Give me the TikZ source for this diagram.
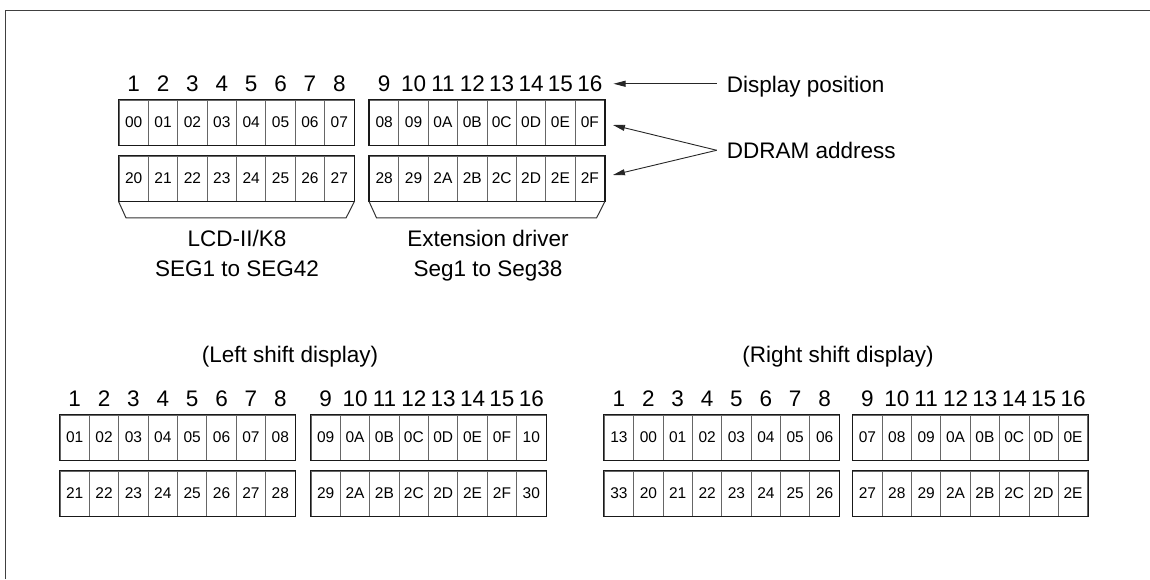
\documentclass[tikz,border=0pt]{standalone}
\usepackage{fontspec}
\setmainfont{Liberation Sans}
\usetikzlibrary{arrows.meta}
\newcommand{\cellgroup}[6]{%
  \foreach \t [count=\i] in {#4} {
    \node[cell] (#1a\i) at ({#2+(\i-0.5)*29.375},{#3+22.5}) {\t};
  }
  \foreach \t [count=\i] in {#5} {
    \node[cell] (#1b\i) at ({#2+(\i-0.5)*29.375},{#3+78.5}) {\t};
  }
  \foreach \t [count=\i] in {#6} {
    \node[num] (#1n\i) at ({#2+(\i-0.5)*29.375},{#3-8.5}) {\t};
  }
  \draw[outer] (#1a1.north west) rectangle (#1a8.south east);
  \draw[outer] (#1b1.north west) rectangle (#1b8.south east);
}
\begin{document}
\begin{tikzpicture}[x=1pt,y=-1pt,
  cell/.style={draw=black!60, line width=0.9pt, minimum width=29.375pt, minimum height=45pt, inner sep=0pt, font=\fontsize{15.5}{18}\selectfont},
  outer/.style={draw=black!90, line width=1.2pt},
  num/.style={anchor=base, inner sep=1pt, font=\fontsize{22.5}{27}\selectfont},
  lbl/.style={inner sep=0pt, font=\fontsize{22.5}{30}\selectfont},
  arr/.style={-{Triangle[length=12pt,width=6pt]}, line width=0.9pt, draw=black!85},
  trap/.style={draw=black!80, line width=1pt},
]
\useasboundingbox (0,0) rectangle (1150,579);
\draw[draw=black!75, line width=1pt] (5,579) -- (5,10) -- (1150,10);

% top groups
\cellgroup{g1}{119}{100}{00,01,02,03,04,05,06,07}{20,21,22,23,24,25,26,27}{1,2,3,4,5,6,7,8}
\cellgroup{g2}{369.5}{100}{08,09,0A,0B,0C,0D,0E,0F}{28,29,2A,2B,2C,2D,2E,2F}{9,10,11,12,13,14,15,16}

\draw[trap] (g1b1.south west) -- ++(7.5,16.5) -- ++(220,0) -- (g1b8.south east);
\draw[trap] (g2b1.south west) -- ++(7.5,16.5) -- ++(220,0) -- (g2b8.south east);

\node[lbl, align=center, anchor=north] (lcd) at (237,230) {LCD-II/K8\\SEG1 to SEG42};
\node[lbl, align=center, anchor=north] (ext) at (488,230) {Extension driver\\Seg1 to Seg38};

\node[lbl, anchor=base west] (dp) at (726.7,92.3) {Display position};
\node[lbl, anchor=base west] (dd) at (726.7,158.3) {DDRAM address};

\coordinate (dpt) at ([xshift=-10pt]dp.west);
\draw[arr] (dpt |- g2n8.east) -- ([xshift=10pt]g2n8.east);
\coordinate (ddt) at ([xshift=-10pt]dd.west);
\draw[arr] (ddt) -- ([shift={(8,2.5)}]g2a8.east);
\draw[arr] (ddt) -- ([shift={(8,-3.5)}]g2b8.east);

% bottom section
\node[lbl, anchor=base] (lsd) at (290,362) {(Left shift display)};
\node[lbl, anchor=base] (rsd) at (838,362) {(Right shift display)};

\cellgroup{g3}{60}{415}{01,02,03,04,05,06,07,08}{21,22,23,24,25,26,27,28}{1,2,3,4,5,6,7,8}
\cellgroup{g4}{311}{415}{09,0A,0B,0C,0D,0E,0F,10}{29,2A,2B,2C,2D,2E,2F,30}{9,10,11,12,13,14,15,16}
\cellgroup{g5}{604.3}{415}{13,00,01,02,03,04,05,06}{33,20,21,22,23,24,25,26}{1,2,3,4,5,6,7,8}
\cellgroup{g6}{852.7}{415}{07,08,09,0A,0B,0C,0D,0E}{27,28,29,2A,2B,2C,2D,2E}{9,10,11,12,13,14,15,16}
\end{tikzpicture}
\end{document}
